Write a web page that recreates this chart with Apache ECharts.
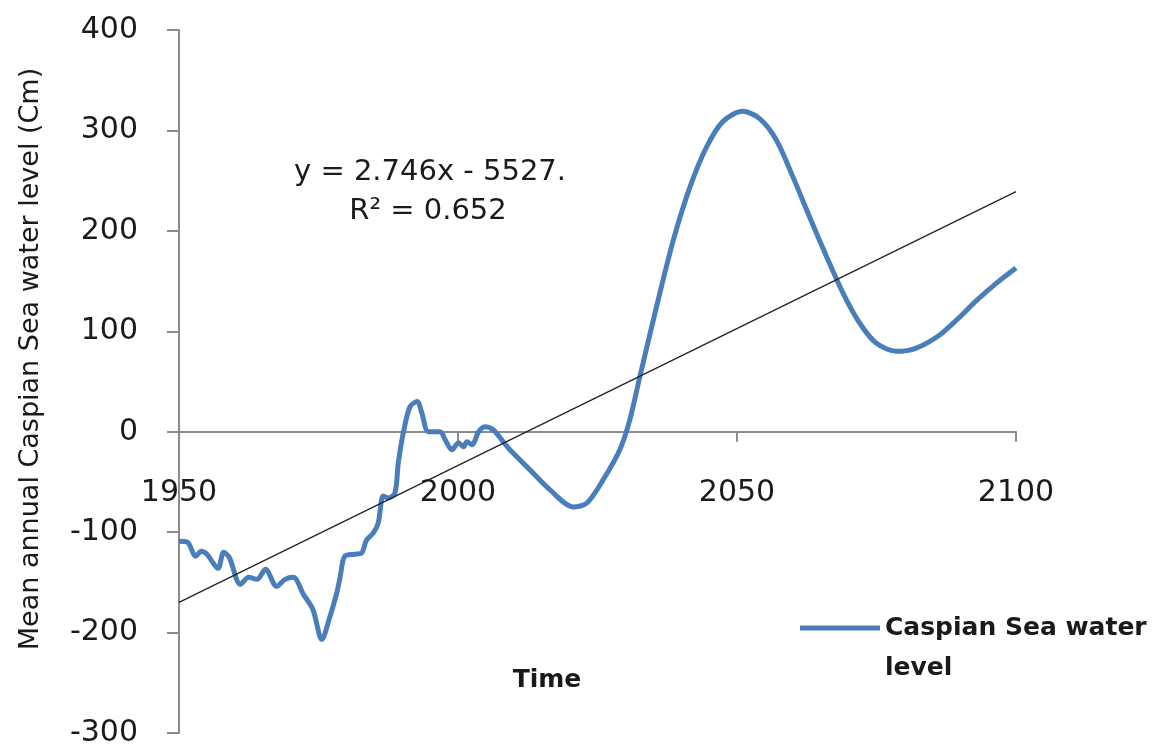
<!DOCTYPE html>
<html>
<head>
<meta charset="utf-8">
<script src="https://cdn.jsdelivr.net/npm/echarts@6/dist/echarts.min.js"></script>
<style>
html,body{margin:0;padding:0;background:#fff;}
#chart{width:1158px;height:744px;}
</style>
</head>
<body>
<div id="chart"></div>
<script>
// Years (x) and mean annual Caspian Sea water level (cm)
var years = [1950, 1951.5, 1953, 1954, 1955, 1957, 1958, 1959, 1961, 1962.5, 1964, 1965.5, 1967.5, 1969, 1970.5, 1972.3, 1974, 1975.6, 1977, 1978.3, 1978.9, 1979.7,
  1981.5, 1982.7, 1983.6, 1984.8, 1985.7, 1986.6, 1987.5, 1988.7, 1989.3, 1990.2, 1991.4, 1992.7, 1993.5, 1994.7, 1996.8, 1997.7, 1998.9,
  2000.1, 2001, 2001.6, 2002.5, 2003.7, 2004.8, 2006.3, 2008.1, 2009.3, 2012.9, 2016.5, 2020.7, 2023.1, 2026, 2029, 2030.8, 2032.6,
  2035.6, 2038.6, 2041.6, 2044.6, 2047.5, 2051, 2054, 2057, 2060, 2063, 2066, 2069, 2072, 2075, 2078.6, 2082, 2086, 2089.5, 2093, 2096.5, 2100];
var levels = [-109, -110, -124, -119, -122, -136, -120, -125, -152, -145, -147, -137, -154, -147, -145, -162, -177, -207, -185, -160, -144, -124,
  -122, -121, -108, -101, -91, -64, -66, -61, -31, -1, 25, 30, 19, 0, 0, -8, -18,
  -11, -15, -10, -13, 0, 5, 2, -10, -18, -38, -58, -75, -71, -48, -18, 12, 55,
  125, 191, 244, 284, 309, 319, 312, 291, 254, 214, 175, 138, 108, 88, 80, 83, 95, 112, 131, 148, 163];
// Linear trend line end points
var trendYears = [1950, 2100];
var trendValues = [-170, 239];
var xTicks = {min: 1950, max: 2100, interval: 50};
var yTicks = {min: -300, max: 400, interval: 100};
var seriesName = 'Caspian Sea water level';
var legendLines = ['Caspian Sea water', 'level'];
var equationText = 'y = 2.746x - 5527.';
var r2Text = 'R\u00B2 = 0.652';
var xTitle = 'Time';
var yTitle = 'Mean annual Caspian Sea water level (Cm)';

var lineData = years.map(function (y, i) { return [y, levels[i]]; });
var trendData = trendYears.map(function (y, i) { return [y, trendValues[i]]; });

var FONT = 'DejaVu Sans';
var GRID_TOP = 30, GRID_BOTTOM_PX = 733;
// put the x axis on the zero line (pixel offset from the bottom of the grid)
var zeroOffset = -(GRID_BOTTOM_PX - GRID_TOP) * (0 - yTicks.min) / (yTicks.max - yTicks.min);

var chart = echarts.init(document.getElementById('chart'), null, {renderer: 'canvas'});
chart.setOption({
  animation: false,
  backgroundColor: '#ffffff',
  grid: {left: 179, right: 142, top: GRID_TOP, bottom: 744 - GRID_BOTTOM_PX, containLabel: false, outerBoundsMode: 'none'},
  xAxis: {
    type: 'value', min: xTicks.min, max: xTicks.max, interval: xTicks.interval,
    offset: zeroOffset,
    axisLine: {onZero: false, lineStyle: {color: '#8c8c8c', width: 2}},
    axisTick: {show: true, length: 10, lineStyle: {color: '#8c8c8c', width: 2}},
    axisLabel: {margin: 46, color: '#1a1a1a', fontFamily: FONT, fontSize: 30, formatter: function (v) { return String(v); }},
    splitLine: {show: false}
  },
  yAxis: {
    type: 'value', min: yTicks.min, max: yTicks.max, interval: yTicks.interval,
    axisLine: {show: true, onZero: false, lineStyle: {color: '#8c8c8c', width: 2}},
    axisTick: {show: true, length: 12, lineStyle: {color: '#8c8c8c', width: 2}},
    axisLabel: {margin: 41, color: '#1a1a1a', fontFamily: FONT, fontSize: 30, formatter: function (v) { return String(v); }},
    splitLine: {show: false}
  },
  legend: {
    show: true, left: 800, top: 568, padding: 0, orient: 'vertical',
    itemWidth: 80, itemHeight: 5, itemGap: 8,
    data: [{name: seriesName, icon: 'rect'}],
    formatter: function () { return '\n' + legendLines.join('\n'); },
    textStyle: {color: '#1a1a1a', fontFamily: FONT, fontSize: 25, fontWeight: 'bold', lineHeight: 40}
  },
  graphic: [
    {type: 'text', x: 430, y: 172, style: {text: equationText, textAlign: 'center', textVerticalAlign: 'middle', fill: '#1a1a1a', font: '29px "DejaVu Sans"'}},
    {type: 'text', x: 428, y: 211, style: {text: r2Text, textAlign: 'center', textVerticalAlign: 'middle', fill: '#1a1a1a', font: '29px "DejaVu Sans"'}},
    {type: 'text', x: 547, y: 680, style: {text: xTitle, textAlign: 'center', textVerticalAlign: 'middle', fill: '#1a1a1a', font: 'bold 25px "DejaVu Sans"'}},
    {type: 'text', x: 31, y: 359, rotation: Math.PI / 2, style: {text: yTitle, textAlign: 'center', textVerticalAlign: 'middle', fill: '#1a1a1a', font: '27px "DejaVu Sans"'}}
  ],
  series: [
    {
      name: seriesName, type: 'line', data: lineData, showSymbol: false, smooth: 0.3,
      lineStyle: {color: '#4a7ebb', width: 5}, itemStyle: {color: '#4a7ebb'}, z: 3
    },
    {
      name: 'trend', type: 'line', data: trendData, showSymbol: false,
      lineStyle: {color: '#222222', width: 1.3}, z: 4
    }
  ]
});
</script>
</body>
</html>
